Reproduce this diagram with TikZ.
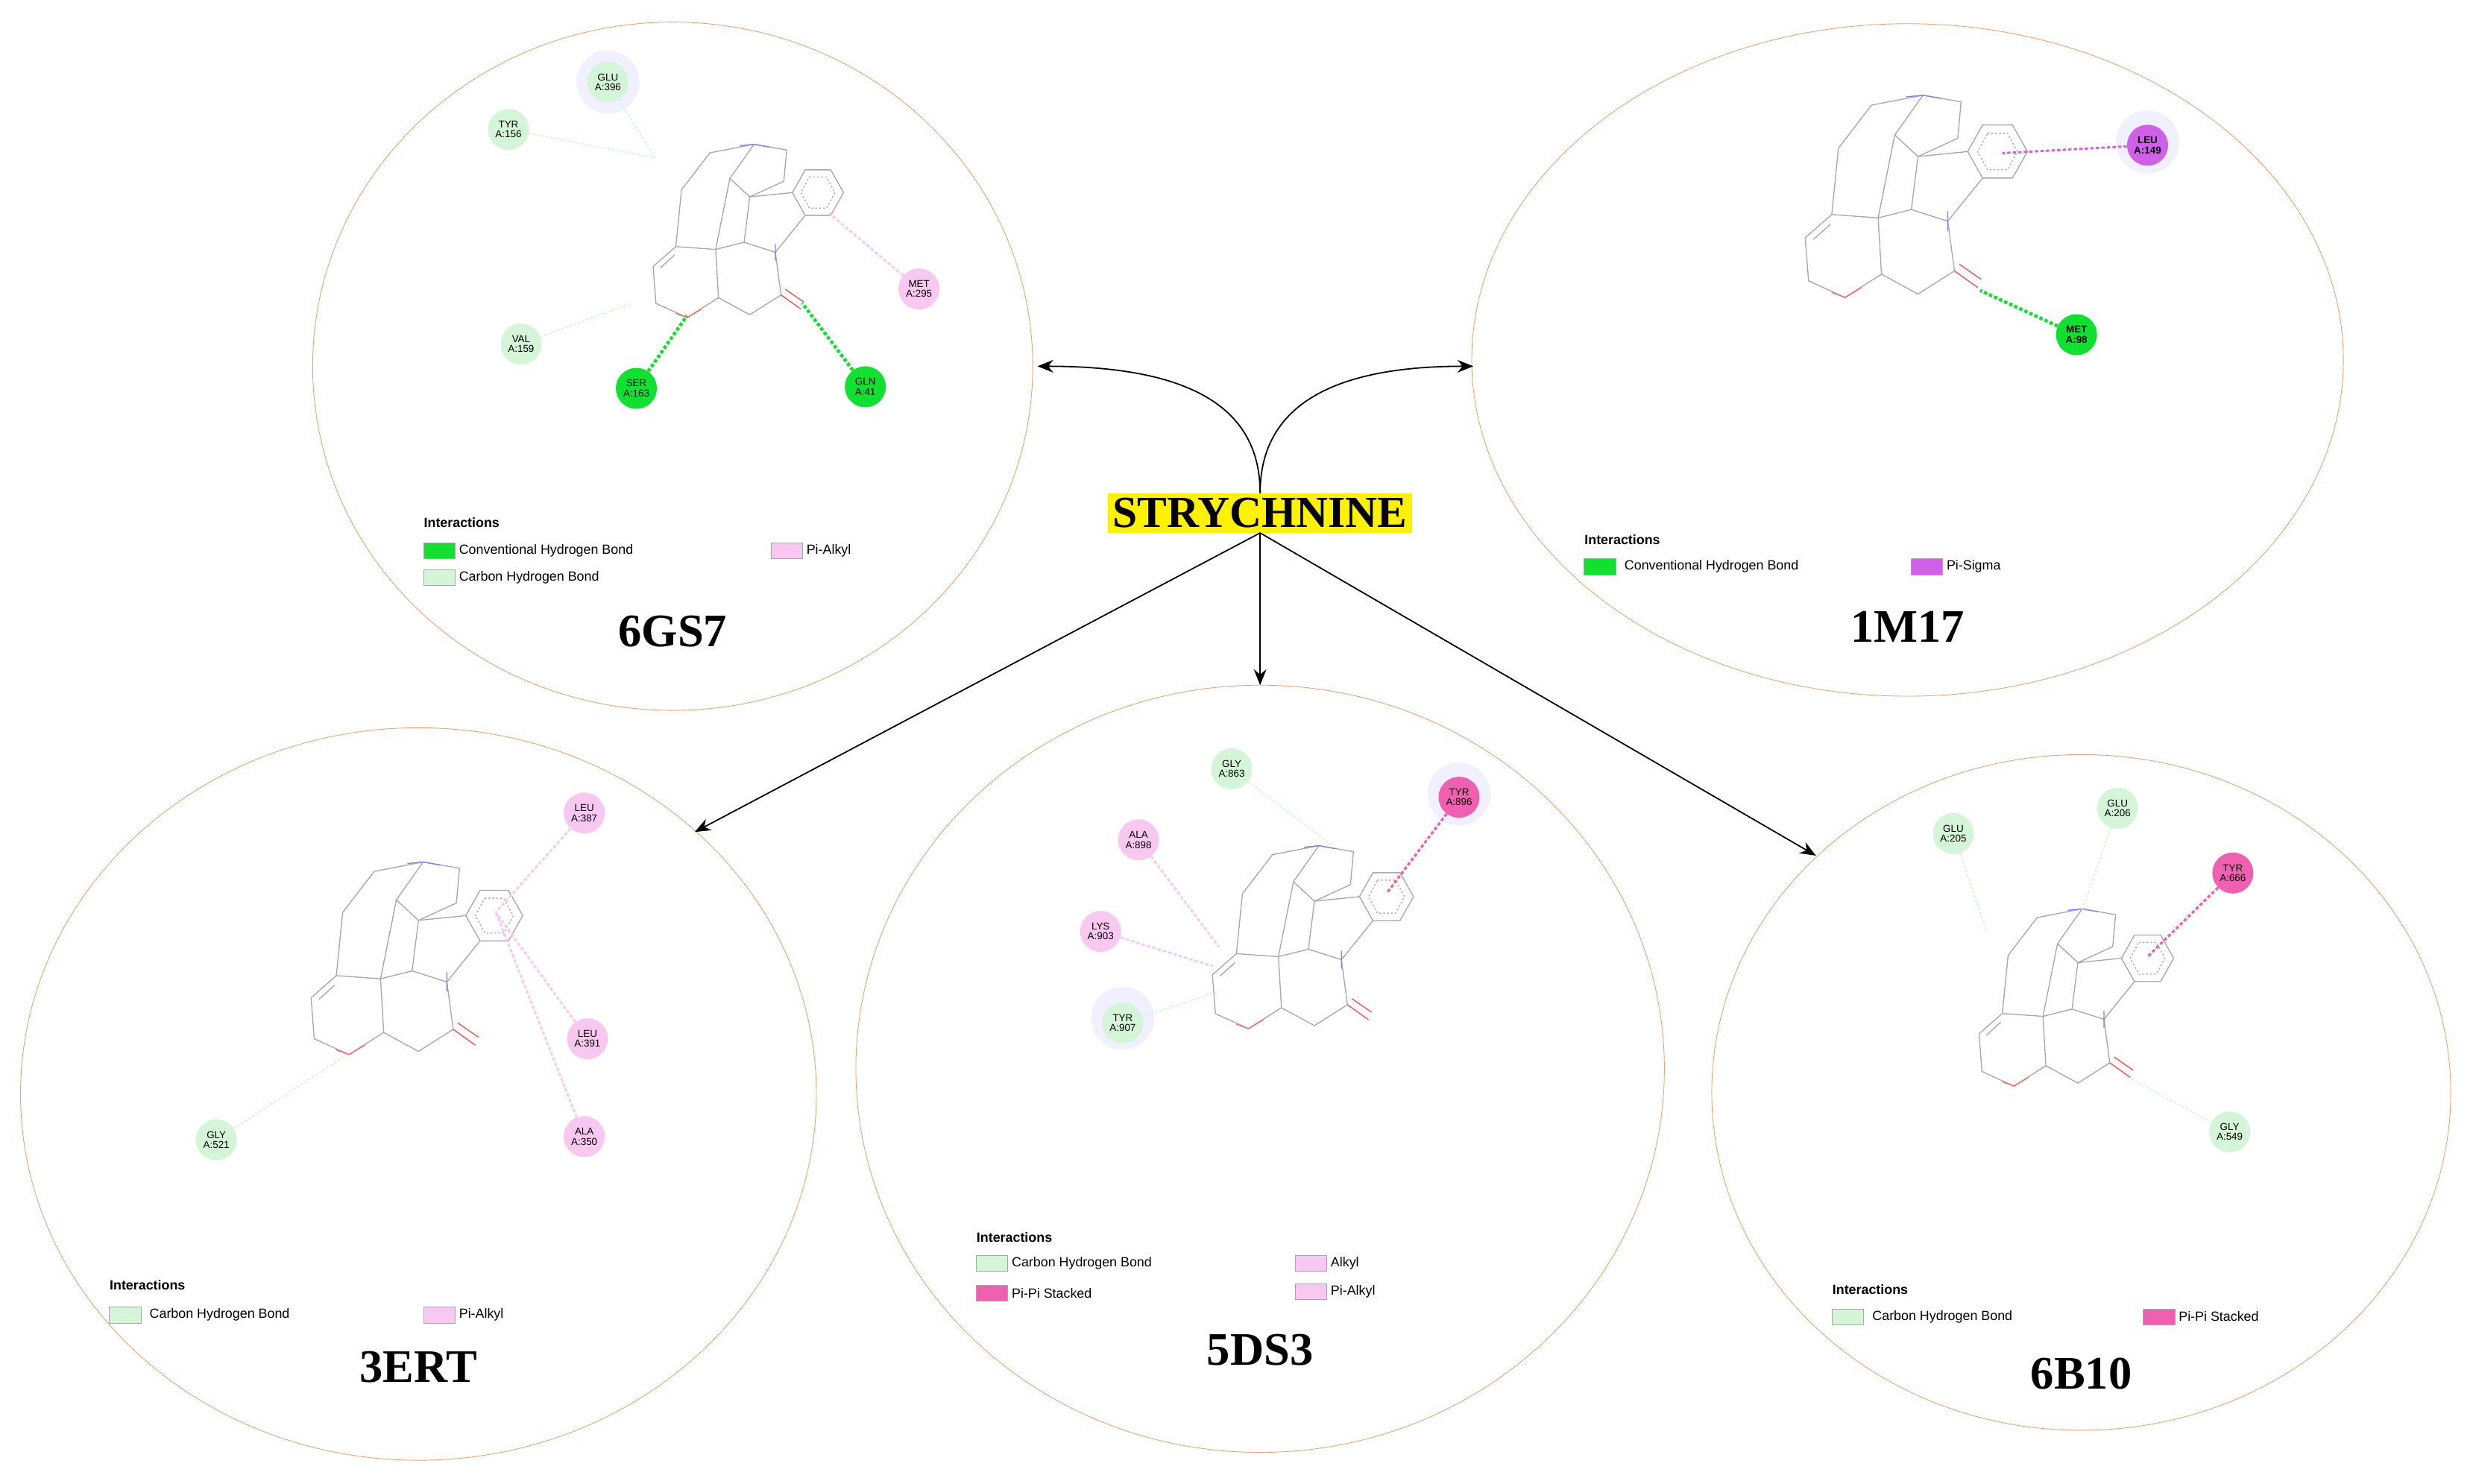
\documentclass[tikz,border=0pt]{standalone}
\usepackage{fontspec}
\setmainfont{Liberation Serif}
\newfontfamily\resf{Liberation Sans}
\usetikzlibrary{arrows.meta}
\definecolor{orng}{HTML}{F0A070}
\definecolor{lg}{HTML}{D4F5D8}
\definecolor{bg}{HTML}{10E030}
\definecolor{pk}{HTML}{F8C8F0}
\definecolor{mg}{HTML}{D060E8}
\definecolor{hp}{HTML}{F060B0}
\definecolor{bondc}{HTML}{A8A8A8}
\tikzset{
 panel/.style={draw=orng,line width=0.6pt},
 bond/.style={draw=bondc,line width=0.9pt,line join=round},
 res/.style={circle,minimum size=13mm,inner sep=0pt,align=center,font=\resf\fontsize{9}{9}\selectfont},
 halo/.style={circle,fill=blue!6,minimum size=20mm,inner sep=0pt},
 ilg/.style={draw=lg!70!green!60,dash pattern=on 2pt off 2pt,line width=0.9pt},
 ibg/.style={draw=bg,dash pattern=on 3pt off 2pt,line width=3pt},
 ipk/.style={draw=pk,dash pattern=on 3pt off 2pt,line width=2pt},
 img/.style={draw=mg,dash pattern=on 3pt off 2pt,line width=2pt},
 ihp/.style={draw=hp,dash pattern=on 3pt off 2pt,line width=2.2pt},
 lbox/.style={draw=gray!70,minimum width=10mm,minimum height=5mm,inner sep=0pt},
 ltxt/.style={anchor=west,font=\resf\fontsize{12}{12}\selectfont},
 lhead/.style={anchor=west,font=\resf\bfseries\fontsize{12}{12}\selectfont},
 ptitle/.style={font=\bfseries\fontsize{42}{42}\selectfont},
 arr/.style={-{Stealth[length=5mm,width=4mm]},line width=1.2pt},
 mol/.pic={
  \draw[bond] (-9,-16)--(9,-16)--(18,0)--(9,16)--(-9,16)--(-18,0)--cycle;
  \draw[bond,dash pattern=on 1.5pt off 2pt] (-6,-11)--(6,-11)--(12,0)--(6,11)--(-6,11)--(-12,0)--cycle;
  \draw[bond] (-18,0)--(-48,3)--(-52,35)--(-30,42)--(-9,16);
  \draw[bond] (-30,42)--(-26,72)--(-48,86)--(-70,74)--(-72,40)--(-52,35);
  \draw[bond] (-72,40)--(-100,38)--(-116,52)--(-114,78)--(-92,88)--(-70,74);
  \draw[bond] (-101,44)--(-111,53);
  \draw[bond] (-100,38)--(-96,-2)--(-76,-28)--(-45,-34)--(-22,-30)--(-24,-8)--(-48,3);
  \draw[bond] (-45,-34)--(-62,-10)--(-48,3);
  \draw[bond] (-62,-10)--(-72,40);
  \draw[red!70,line width=0.9pt] (-26,72)--(-12,82) (-23,68)--(-10,77);
  \draw[red!60,line width=0.9pt] (-100,85)--(-92,88)--(-82,82);
  \draw[blue!50,line width=0.9pt] (-55,-33)--(-45,-34)--(-34,-32) (-30,36)--(-30,48);
 }
}
\begin{document}
\begin{tikzpicture}[x=0.5mm,y=-0.5mm]
\useasboundingbox (0,0) rectangle (1568,940);
% panels
\draw[panel] (426,232) ellipse [x radius=228,y radius=218];
\draw[panel] (1208,228) ellipse [x radius=276,y radius=213];
\draw[panel] (265,693) ellipse [x radius=252,y radius=232];
\draw[panel] (798,677) ellipse [x radius=256,y radius=243];
\draw[panel] (1318,692) ellipse [x radius=234,y radius=214];
% center
\node[fill=yellow,inner sep=1.5mm,font=\bfseries\fontsize{40}{40}\selectfont] (st) at (798,325) {STRYCHNINE};
\coordinate (e1) at (657,232); \coordinate (e2) at (933,232);
\coordinate (e3) at (440,527); \coordinate (e4) at (798,434); \coordinate (e5) at (1150,542);
\draw[arr] (st.north) .. controls (798,262) and (760,232) .. (e1);
\draw[arr] (st.north) .. controls (798,262) and (836,232) .. (e2);
\draw[arr] (st.south) -- (e3);
\draw[arr] (st.south) -- (e4);
\draw[arr] (st.south) -- (e5);
% molecules
\pic[scale=0.9] at (518,122) {mol};
\pic[scale=1.05] at (1265,96) {mol};
\pic at (313,580) {mol};
\pic[scale=0.95] at (878,568) {mol};
\pic[scale=0.92] at (1360,607) {mol};
% halos
\node[halo] at (385,52) {}; \node[halo] at (1360,90) {};
\node[halo] at (924,503) {}; \node[halo] at (711,645) {};
% 6GS7
\coordinate (a1) at (415,100); \coordinate (a2) at (400,192); \coordinate (a3) at (435,200);
\coordinate (a4) at (508,192); \coordinate (a5) at (525,135);
\node[res,fill=lg] (r1) at (385,52) {GLU\\A:396};
\node[res,fill=lg] (r2) at (322,82) {TYR\\A:156};
\node[res,fill=lg] (r3) at (330,218) {VAL\\A:159};
\node[res,fill=bg] (r4) at (403,246) {SER\\A:163};
\node[res,fill=bg] (r5) at (548,245) {GLN\\A:41};
\node[res,fill=pk] (r6) at (582,183) {MET\\A:295};
\draw[ilg] (r1) -- (a1); \draw[ilg] (r2) -- (a1); \draw[ilg] (r3) -- (a2);
\draw[ibg] (r4) -- (a3); \draw[ibg] (r5) -- (a4); \draw[ipk] (r6) -- (a5);
\node[lhead] (h1) at (266,331) {Interactions};
\node[lbox,fill=bg,anchor=west] (b11) at (268,349) {}; \node[ltxt] at (b11.east) {Conventional Hydrogen Bond};
\node[lbox,fill=lg,anchor=west] (b12) at (268,366) {}; \node[ltxt] at (b12.east) {Carbon Hydrogen Bond};
\node[lbox,fill=pk,anchor=west] (b13) at (488,349) {}; \node[ltxt] at (b13.east) {Pi-Alkyl};
\node[ptitle] (t1) at (426,400) {6GS7};
% 1M17
\coordinate (c1) at (1268,97); \coordinate (c2) at (1254,184);
\node[res,fill=mg] (s1) at (1360,92) {\bfseries LEU\\\bfseries A:149};
\node[res,fill=bg] (s2) at (1315,212) {\bfseries MET\\\bfseries A:98};
\draw[img] (s1) -- (c1); \draw[ibg] (s2) -- (c2);
\node[lhead] at (1001,342) {Interactions};
\node[lbox,fill=bg,anchor=west] (b21) at (1003,359) {}; \node[ltxt] at (b21.east) {\hspace{1.5mm}Conventional Hydrogen Bond};
\node[lbox,fill=mg,anchor=west] (b22) at (1210,359) {}; \node[ltxt] at (b22.east) {Pi-Sigma};
\node[ptitle] at (1208,397) {1M17};
% 3ERT
\coordinate (d1) at (314,578); \coordinate (d2) at (220,668);
\node[res,fill=pk] (u1) at (370,515) {LEU\\A:387};
\node[res,fill=pk] (u2) at (372,658) {LEU\\A:391};
\node[res,fill=pk] (u3) at (370,720) {ALA\\A:350};
\node[res,fill=lg] (u4) at (137,722) {GLY\\A:521};
\draw[ipk] (u1) -- (d1); \draw[ipk] (u2) -- (d1); \draw[ipk] (u3) -- (d1); \draw[ilg] (u4) -- (d2);
\node[lhead] at (67,814) {Interactions};
\node[lbox,fill=lg,anchor=west] (b31) at (69,833) {}; \node[ltxt] at (b31.east) {\hspace{1.5mm}Carbon Hydrogen Bond};
\node[lbox,fill=pk,anchor=west] (b32) at (268,833) {}; \node[ltxt] at (b32.east) {Pi-Alkyl};
\node[ptitle] at (265,866) {3ERT};
% 5DS3
\coordinate (f1) at (843,535); \coordinate (f2) at (878,566); \coordinate (f3) at (772,600);
\coordinate (f4) at (768,612); \coordinate (f5) at (772,628);
\node[res,fill=lg] (v1) at (780,487) {GLY\\A:863};
\node[res,fill=hp] (v2) at (924,505) {TYR\\A:896};
\node[res,fill=pk] (v3) at (721,532) {ALA\\A:898};
\node[res,fill=pk] (v4) at (697,590) {LYS\\A:903};
\node[res,fill=lg] (v5) at (711,648) {TYR\\A:907};
\draw[ilg] (v1) -- (f1); \draw[ihp] (v2) -- (f2); \draw[ipk] (v3) -- (f3);
\draw[ipk] (v4) -- (f4); \draw[ilg] (v5) -- (f5);
\node[lhead] at (616,784) {Interactions};
\node[lbox,fill=lg,anchor=west] (b41) at (618,800) {}; \node[ltxt] at (b41.east) {Carbon Hydrogen Bond};
\node[lbox,fill=hp,anchor=west] (b42) at (618,819) {}; \node[ltxt] at (b42.east) {Pi-Pi Stacked};
\node[lbox,fill=pk,anchor=west] (b43) at (820,800) {}; \node[ltxt] at (b43.east) {Alkyl};
\node[lbox,fill=pk,anchor=west] (b44) at (820,818) {}; \node[ltxt] at (b44.east) {Pi-Alkyl};
\node[ptitle] at (798,855) {5DS3};
% 6B10
\coordinate (g1) at (1258,590); \coordinate (g2) at (1318,578); \coordinate (g3) at (1360,606); \coordinate (g4) at (1347,682);
\node[res,fill=lg] (w1) at (1237,528) {GLU\\A:205};
\node[res,fill=lg] (w2) at (1341,512) {GLU\\A:206};
\node[res,fill=hp] (w3) at (1414,553) {TYR\\A:666};
\node[res,fill=lg] (w4) at (1412,717) {GLY\\A:549};
\draw[ilg] (w1) -- (g1); \draw[ilg] (w2) -- (g2); \draw[ihp] (w3) -- (g3); \draw[ilg] (w4) -- (g4);
\node[lhead] at (1158,817) {Interactions};
\node[lbox,fill=lg,anchor=west] (b51) at (1160,834) {}; \node[ltxt] at (b51.east) {\hspace{1.5mm}Carbon Hydrogen Bond};
\node[lbox,fill=hp,anchor=west] (b52) at (1357,834) {}; \node[ltxt] at (b52.east) {Pi-Pi Stacked};
\node[ptitle] at (1318,870) {6B10};
\end{tikzpicture}
\end{document}
